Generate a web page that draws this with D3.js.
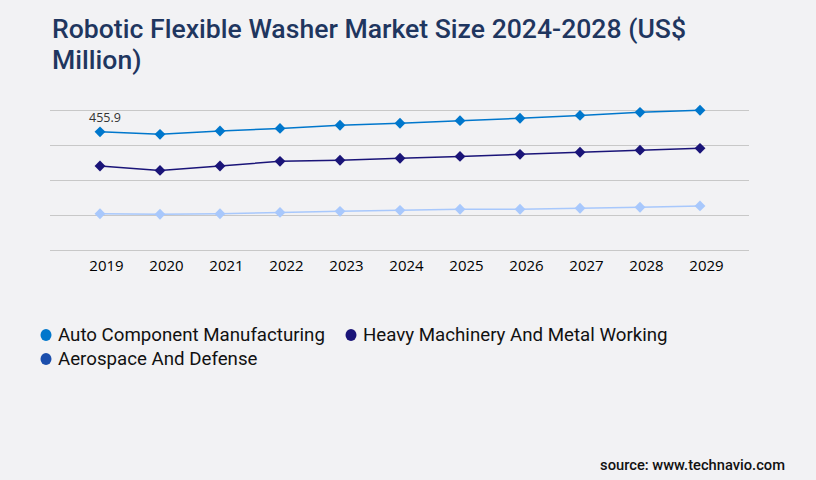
<!DOCTYPE html>
<html>
<head>
<meta charset="utf-8">
<script src="https://cdn.jsdelivr.net/npm/d3@7"></script>
<style>
  html, body { margin: 0; padding: 0; background: #f2f2f4; }
  svg { display: block; }
</style>
</head>
<body>
<svg width="816" height="480"></svg>
<script>
// data
const years = ["2019","2020","2021","2022","2023","2024","2025","2026","2027","2028","2029"];
const autoComponent = [455.9, 446, 459, 469, 481, 489, 499, 508, 519, 531, 539];
const heavyMachinery = [324, 307, 324, 342, 346, 354, 361, 369, 377, 385, 392];
const aerospace = [140, 138, 140, 145, 149, 153, 157, 157, 161, 165, 170];
const seriesNames = ["Auto Component Manufacturing", "Heavy Machinery And Metal Working", "Aerospace And Defense"];
const gridValues = [0, 135, 270, 405, 540];

const series = [
  { name: seriesNames[0], values: autoComponent, color: "#0077cc", legend: "#0077cc" },
  { name: seriesNames[1], values: heavyMachinery, color: "#1a1478", legend: "#1a1478" },
  { name: seriesNames[2], values: aerospace, color: "#a8c8fc", legend: "#1b4eac" }
];

const svg = d3.select("svg");

svg.append("rect").attr("width", 816).attr("height", 480).attr("fill", "#f2f2f4");

// title, two lines
const title = svg.append("text")
  .attr("font-family", "Roboto, sans-serif")
  .attr("font-size", 26.6).attr("font-weight", 500)
  .attr("fill", "#1f365f");
title.append("tspan").attr("x", 52).attr("y", 38).text("Robotic Flexible Washer Market Size 2024-2028 (US$");
title.append("tspan").attr("x", 52).attr("y", 69).text("Million)");

const x = d3.scalePoint().domain(years).range([100, 700]);
const y = d3.scaleLinear().domain([0, 540]).range([250, 110]);

// gridlines
svg.append("g").selectAll("line")
  .data(gridValues)
  .join("line")
  .attr("x1", 50).attr("x2", 749)
  .attr("y1", d => Math.round(y(d)) + 0.5)
  .attr("y2", d => Math.round(y(d)) + 0.5)
  .attr("stroke", "#c8c8c8").attr("stroke-width", 1);

// x axis labels
const xAxis = svg.append("g")
  .attr("transform", "translate(6,250)")
  .call(d3.axisBottom(x).tickSize(0).tickPadding(10));
xAxis.select(".domain").remove();
xAxis.selectAll("text")
  .attr("font-family", "'Open Sans', sans-serif")
  .attr("font-size", 15)
  .attr("font-weight", 500)
  .attr("fill", "#000");

const line = d3.line()
  .x((d, i) => x(years[i]))
  .y(d => y(d));

const diamond = d3.symbol().type(d3.symbolDiamond2).size(75);

series.forEach(s => {
  svg.append("path")
    .datum(s.values)
    .attr("d", line)
    .attr("fill", "none")
    .attr("stroke", s.color)
    .attr("stroke-width", 1.5);
  svg.append("g").selectAll("path")
    .data(s.values)
    .join("path")
    .attr("transform", (d, i) => `translate(${x(years[i])},${y(d)})`)
    .attr("d", diamond)
    .attr("fill", s.color);
});

// data label on first point
svg.append("text")
  .attr("x", x(years[0]) + 5)
  .attr("y", y(autoComponent[0]) - 10)
  .attr("text-anchor", "middle")
  .attr("font-family", "'Open Sans', sans-serif")
  .attr("font-size", 12.5)
  .attr("fill", "#333")
  .text(autoComponent[0]);

// legend
const legendPos = [[46, 335], [351, 335], [46, 359]];
const legend = svg.append("g").selectAll("g")
  .data(series)
  .join("g")
  .attr("transform", (d, i) => `translate(${legendPos[i][0]},${legendPos[i][1]})`);
legend.append("ellipse")
  .attr("rx", 5.5).attr("ry", 6)
  .attr("fill", d => d.legend);
legend.append("text")
  .attr("x", 12).attr("y", 5.5)
  .attr("font-family", "Roboto, sans-serif")
  .attr("font-size", 18.7)
  .attr("fill", "#111")
  .text(d => d.name);

// source
svg.append("text")
  .attr("x", 785).attr("y", 470)
  .attr("text-anchor", "end")
  .attr("font-family", "Roboto, sans-serif")
  .attr("font-size", 14.7)
  .attr("font-weight", 500)
  .attr("fill", "#111")
  .text("source: www.technavio.com");
</script>
</body>
</html>
